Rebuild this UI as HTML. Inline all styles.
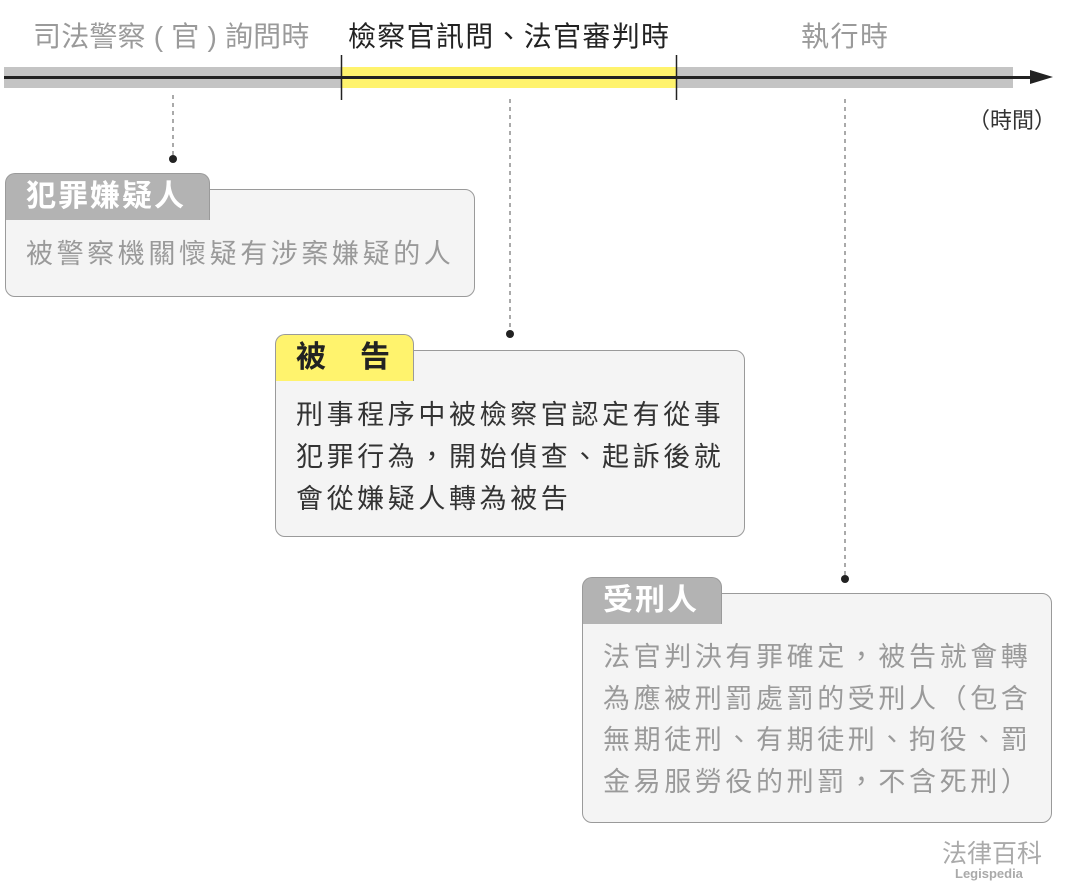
<!DOCTYPE html>
<html><head><meta charset="utf-8">
<style>
*{margin:0;padding:0;box-sizing:border-box}
body{width:1065px;height:896px;background:#fff;position:relative;overflow:hidden;font-family:"Liberation Sans","Noto Sans CJK TC",sans-serif}
.a{position:absolute;white-space:nowrap}
.hd{font-size:28px;line-height:30px;top:22px}
.box{position:absolute;background:#f4f4f4;border:1.5px solid #9a9a9a;border-radius:10px}
.tab{position:absolute;border:1.5px solid #9a9a9a;border-bottom:none;border-radius:10px 10px 0 0;font-size:30px;font-weight:bold;line-height:46px;padding-left:20px;letter-spacing:2px}
.txt{position:absolute;font-size:27px;letter-spacing:3.6px;line-height:42px}
</style></head><body>
<div class="a hd" style="left:33px;color:#9a9a9a;letter-spacing:0.2px">司法警察 ( 官 ) 詢問時</div>
<div class="a hd" style="left:348px;color:#222;letter-spacing:1.3px">檢察官訊問、法官審判時</div>
<div class="a hd" style="left:801px;color:#9a9a9a;letter-spacing:1.5px">執行時</div>
<div class="a" style="left:4px;top:67px;width:1009px;height:21px;background:#c4c4c4"></div>
<div class="a" style="left:341px;top:67px;width:335px;height:21px;background:#fff36d"></div>
<div class="a" style="left:4px;top:76px;width:1030px;height:2.5px;background:#222"></div>
<svg class="a" style="left:0;top:0" width="1065" height="896">
<polygon points="1030,70 1053,77 1030,84" fill="#222"/>
<line x1="341.5" y1="55" x2="341.5" y2="100" stroke="#222" stroke-width="1.5"/>
<line x1="676.5" y1="55" x2="676.5" y2="100" stroke="#222" stroke-width="1.5"/>
<line x1="173" y1="95" x2="173" y2="158" stroke="#555" stroke-width="1" stroke-dasharray="4,4"/>
<circle cx="173" cy="159" r="4" fill="#222"/>
<line x1="510" y1="99" x2="510" y2="333" stroke="#555" stroke-width="1" stroke-dasharray="4,4"/>
<circle cx="510" cy="334" r="4" fill="#222"/>
<line x1="845" y1="99" x2="845" y2="578" stroke="#555" stroke-width="1" stroke-dasharray="4,4"/>
<circle cx="845" cy="579" r="4" fill="#222"/>
</svg>
<div class="a" style="left:968px;top:103px;font-size:22px;color:#333">（時間）</div>

<div class="box" style="left:5px;top:189px;width:470px;height:108px"></div>
<div class="tab" style="left:5px;top:173px;width:205px;height:47px;background:#b3b3b3;color:#fff">犯罪嫌疑人</div>
<div class="txt" style="left:26px;top:233px;color:#9a9a9a">被警察機關懷疑有涉案嫌疑的人</div>

<div class="box" style="left:275px;top:350px;width:470px;height:187px"></div>
<div class="tab" style="left:275px;top:334px;width:139px;height:47px;background:#fff36d;color:#222">被　告</div>
<div class="txt" style="left:296px;top:394px;color:#333">刑事程序中被檢察官認定有從事<br>犯罪行為，開始偵查、起訴後就<br>會從嫌疑人轉為被告</div>

<div class="box" style="left:582px;top:593px;width:470px;height:230px"></div>
<div class="tab" style="left:582px;top:577px;width:140px;height:47px;background:#b3b3b3;color:#fff">受刑人</div>
<div class="txt" style="left:603px;top:637px;color:#9a9a9a;line-height:41.5px">法官判決有罪確定，被告就會轉<br>為應被刑罰處罰的受刑人（包含<br>無期徒刑、有期徒刑、拘役、罰<br>金易服勞役的刑罰，不含死刑）</div>

<div class="a" style="left:942px;top:834px;font-size:25px;color:#aaa">法律百科</div>
<div class="a" style="left:955px;top:866px;font-size:13px;font-weight:bold;color:#aaa">Legispedia</div>
</body></html>
